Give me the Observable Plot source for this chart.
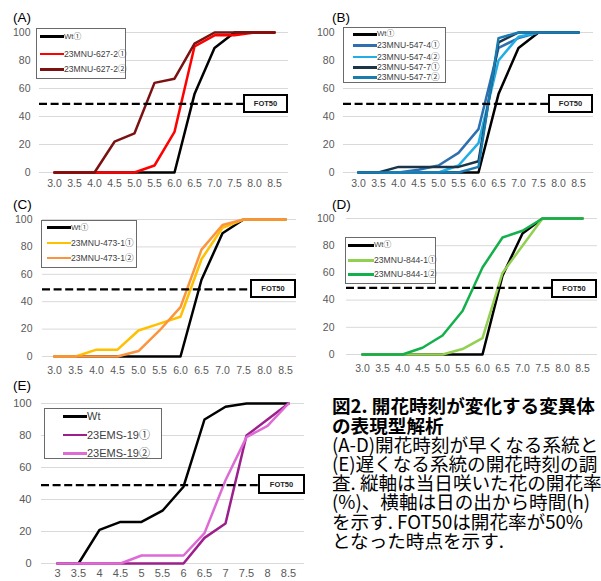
<!DOCTYPE html>
<html><head><meta charset="utf-8">
<script src="https://cdn.jsdelivr.net/npm/d3@7"></script>
<script src="https://cdn.jsdelivr.net/npm/@observablehq/plot@0.6"></script>
<style>
body{margin:0;background:#fff;}
#root{position:relative;width:601px;height:581px;overflow:hidden;background:#fff;}
#root svg{position:absolute;overflow:visible;}
.plabel{position:absolute;font-family:"Liberation Sans",Arial,sans-serif;font-size:13.5px;color:#000;line-height:14px;}
.legend{position:absolute;border:1px solid #6a6a6a;background:#fff;box-sizing:border-box;}
.sw{position:absolute;height:2.6px;}
.lt{position:absolute;white-space:nowrap;font-family:"Liberation Sans","Noto Sans CJK JP",sans-serif;color:#404040;line-height:1;}
.fot{position:absolute;border:2px solid #000;background:#fff;box-sizing:border-box;font-family:"Liberation Sans",Arial,sans-serif;font-weight:bold;font-size:7.5px;display:flex;align-items:center;justify-content:center;color:#222;}
.capline{position:absolute;left:332px;height:19.2px;overflow:visible;font-family:"Noto Sans CJK JP",sans-serif;font-size:18.6px;line-height:19.2px;white-space:nowrap;color:#000;}
.capline.b{font-weight:700;}
</style></head>
<body><div id="root"></div>
<script>
// ---- categories / ticks ----
const hoursAD = ["3.0","3.5","4.0","4.5","5.0","5.5","6.0","6.5","7.0","7.5","8.0","8.5"];
const hoursE = ["3","3.5","4","4.5","5","5.5","6","6.5","7","7.5","8","8.5"];
const yTicks = [0,20,40,60,80,100];
const fotLevel = 49;
const fotLabel = "FOT50";

// ---- Panel A ----
const namesA = ["Wt①","23MNU-627-2①","23MNU-627-2②"];
const colorsA = ["#000000","#ff0000","#7b1111"];
const wtA = [0,0,0,0,0,0,0,56,89,100,100,100];
const mnu627_2_1 = [0,0,0,0,0,5,29,90,98,98,100,100];
const mnu627_2_2 = [0,0,0,22,28,64,67,92,100,100,100,100];

// ---- Panel B ----
const namesB = ["Wt①","23MNU-547-4①","23MNU-547-4②","23MNU-547-7①","23MNU-547-7②"];
const colorsB = ["#000000","#2e6fb0","#1faee6","#1c3448","#1a7bb0"];
const wtB = [0,0,0,0,0,0,0,56,89,100,100,100];
const mnu547_4_1 = [0,0,0,2,5,14,31,89,96,100,100,100];
const mnu547_4_2 = [0,0,0,0,0,5,21,80,97,100,100,100];
const mnu547_7_1 = [0,0,4,4,4,4,8,93,100,100,100,100];
const mnu547_7_2 = [0,0,0,0,0,0,4,96,100,100,100,100];

// ---- Panel C ----
const namesC = ["Wt①","23MNU-473-1①","23MNU-473-1②"];
const colorsC = ["#000000","#ffc000","#fb943c"];
const wtC = [0,0,0,0,0,0,0,56,90,100,100,100];
const mnu473_1_1 = [0,0,5,5,19,24,29,71,94,100,100,100];
const mnu473_1_2 = [0,0,0,0,4,19,36,78,96,100,100,100];

// ---- Panel D ----
const namesD = ["Wt①","23MNU-844-1①","23MNU-844-1②"];
const colorsD = ["#000000","#92d050","#14b04c"];
const wtD = [0,0,0,0,0,0,0,58,89,100,100,100];
const mnu844_1_1 = [0,0,0,0,0,4,12,60,80,100,100,100];
const mnu844_1_2 = [0,0,0,5,14,32,64,86,91,100,100,100];

// ---- Panel E ----
const namesE = ["Wt","23EMS-19①","23EMS-19②"];
const colorsE = ["#000000","#9c1f8c","#de6ad6"];
const wtE = [0,0,21,26,26,33,48,90,98,100,100,100];
const ems19_1 = [0,0,0,0,0,0,0,16,25,80,90,100];
const ems19_2 = [0,0,0,0,5,5,5,19,52,79,86,100];

const captionLines = [
  ["図2. 開花時刻が変化する変異体", true],
  ["の表現型解析", true],
  ["(A-D)開花時刻が早くなる系統と", false],
  ["(E)遅くなる系統の開花時刻の調", false],
  ["査. 縦軸は当日咲いた花の開花率", false],
  ["(%)、横軸は日の出から時間(h)", false],
  ["を示す. FOT50は開花率が50%", false],
  ["となった時点を示す.", false]
];

const root = document.getElementById("root");

function panel(cfg) {
  const {label, labelPos, left, top, width, height, plotLeft, plotRight, y100, y0,
         xDomain, names, colors, values, xPad, yPad, fontSize, legend, fot} = cfg;
  const rows = [];
  names.forEach((n, k) => values[k].forEach((v, i) => rows.push({x: xDomain[i], y: v, series: n})));
  const svg = Plot.plot({
    width, height,
    marginLeft: plotLeft - left, marginRight: left + width - plotRight,
    marginTop: y100 - top, marginBottom: top + height - y0,
    style: {fontFamily: "'Liberation Sans', Arial, sans-serif", fontSize: fontSize + "px", color: "#595959", background: "transparent", overflow: "visible"},
    x: {type: "point", domain: xDomain, padding: 0.5, align: 0.5, label: null, tickSize: 0, tickPadding: xPad},
    y: {domain: [0, 100], ticks: yTicks, label: null, tickSize: 0, tickPadding: yPad},
    color: {domain: names, range: colors},
    marks: [
      Plot.ruleY(yTicks, {stroke: "#d9d9d9", strokeWidth: 1}),
      Plot.line(rows, {x: "x", y: "y", z: "series", stroke: "series", strokeWidth: 2.5, strokeLinejoin: "round"}),
      Plot.ruleY([fotLevel], {stroke: "#000", strokeWidth: 2.4, strokeDasharray: "8,3.6"})
    ]
  });
  svg.style.left = left + "px";
  svg.style.top = top + "px";
  root.appendChild(svg);

  const pl = document.createElement("div");
  pl.className = "plabel";
  pl.textContent = label;
  pl.style.left = labelPos[0] + "px";
  pl.style.top = (labelPos[1] - 7) + "px";
  root.appendChild(pl);

  // legend
  const lg = document.createElement("div");
  lg.className = "legend";
  lg.style.left = legend.box[0] + "px";
  lg.style.top = legend.box[1] + "px";
  lg.style.width = legend.box[2] + "px";
  lg.style.height = legend.box[3] + "px";
  root.appendChild(lg);
  names.forEach((n, k) => {
    const cy = legend.rows[k];
    const sw = document.createElement("div");
    sw.className = "sw";
    sw.style.left = legend.sw[0] + "px";
    sw.style.width = (legend.sw[1] - legend.sw[0]) + "px";
    sw.style.top = (cy - 1.3) + "px";
    sw.style.background = colors[k];
    root.appendChild(sw);
    const t = document.createElement("div");
    t.className = "lt";
    const fs = (k === 0 && legend.wtFont) ? legend.wtFont : legend.font;
    t.style.fontSize = fs + "px";
    t.style.left = legend.textX + "px";
    t.style.top = (cy - fs / 2) + "px";
    t.textContent = n;
    root.appendChild(t);
  });

  // FOT50 box
  const fb = document.createElement("div");
  fb.className = "fot";
  fb.style.left = fot[0] + "px";
  fb.style.top = fot[1] + "px";
  fb.style.width = (fot[2] - fot[0]) + "px";
  fb.style.height = (fot[3] - fot[1]) + "px";
  fb.textContent = fotLabel;
  root.appendChild(fb);
}

panel({label: "(A)", labelPos: [13, 18], left: 0, top: 20, width: 300, height: 175,
  plotLeft: 39, plotRight: 288, y100: 32, y0: 172, xDomain: hoursAD,
  names: namesA, colors: colorsA, values: [wtA, mnu627_2_1, mnu627_2_2],
  xPad: 7, yPad: 9, fontSize: 10.5,
  legend: {box: [36, 28, 90, 51], rows: [36.7, 54, 69.5], sw: [40, 64], textX: 64, font: 8.6, wtFont: 7.8},
  fot: [243, 94, 288, 113]});

panel({label: "(B)", labelPos: [332, 18], left: 300, top: 20, width: 301, height: 175,
  plotLeft: 343, plotRight: 593, y100: 32, y0: 172, xDomain: hoursAD,
  names: namesB, colors: colorsB, values: [wtB, mnu547_4_1, mnu547_4_2, mnu547_7_1, mnu547_7_2],
  xPad: 7, yPad: 9, fontSize: 10.5,
  legend: {box: [343, 27, 103, 56], rows: [34.3, 45.7, 57, 67.3, 77.7], sw: [353, 377], textX: 377, font: 8.6, wtFont: 7.8},
  fot: [548, 94, 593, 113]});

panel({label: "(C)", labelPos: [13, 205], left: 0, top: 205, width: 300, height: 175,
  plotLeft: 42, plotRight: 296, y100: 219, y0: 356, xDomain: hoursAD,
  names: namesC, colors: colorsC, values: [wtC, mnu473_1_1, mnu473_1_2],
  xPad: 10, yPad: 10, fontSize: 10.5,
  legend: {box: [41, 220, 96, 48], rows: [227.5, 243, 258], sw: [47, 71], textX: 71, font: 8.6, wtFont: 7.8},
  fot: [250, 279, 296, 298]});

panel({label: "(D)", labelPos: [332, 205], left: 300, top: 205, width: 301, height: 175,
  plotLeft: 346, plotRight: 597, y100: 218, y0: 354, xDomain: hoursAD,
  names: namesD, colors: colorsD, values: [wtD, mnu844_1_1, mnu844_1_2],
  xPad: 10, yPad: 12, fontSize: 10.5,
  legend: {box: [345, 237, 91, 47], rows: [245.3, 260.3, 274.7], sw: [348, 374], textX: 374, font: 8.6, wtFont: 7.8},
  fot: [551, 279, 597, 298]});

panel({label: "(E)", labelPos: [13, 386], left: 0, top: 395, width: 320, height: 186,
  plotLeft: 41, plotRight: 304, y100: 403, y0: 563, xDomain: hoursE,
  names: namesE, colors: colorsE, values: [wtE, ems19_1, ems19_2],
  xPad: 6, yPad: 10, fontSize: 11,
  legend: {box: [44, 408, 118, 51], rows: [416.7, 435, 453.3], sw: [63, 87], textX: 87, font: 11},
  fot: [258, 474, 305, 494]});

captionLines.forEach(([t, b], i) => {
  const d = document.createElement("div");
  d.className = "capline" + (b ? " b" : "");
  d.style.top = (395.4 + i * 19.2) + "px";
  d.textContent = t;
  root.appendChild(d);
});
</script>
</body></html>
